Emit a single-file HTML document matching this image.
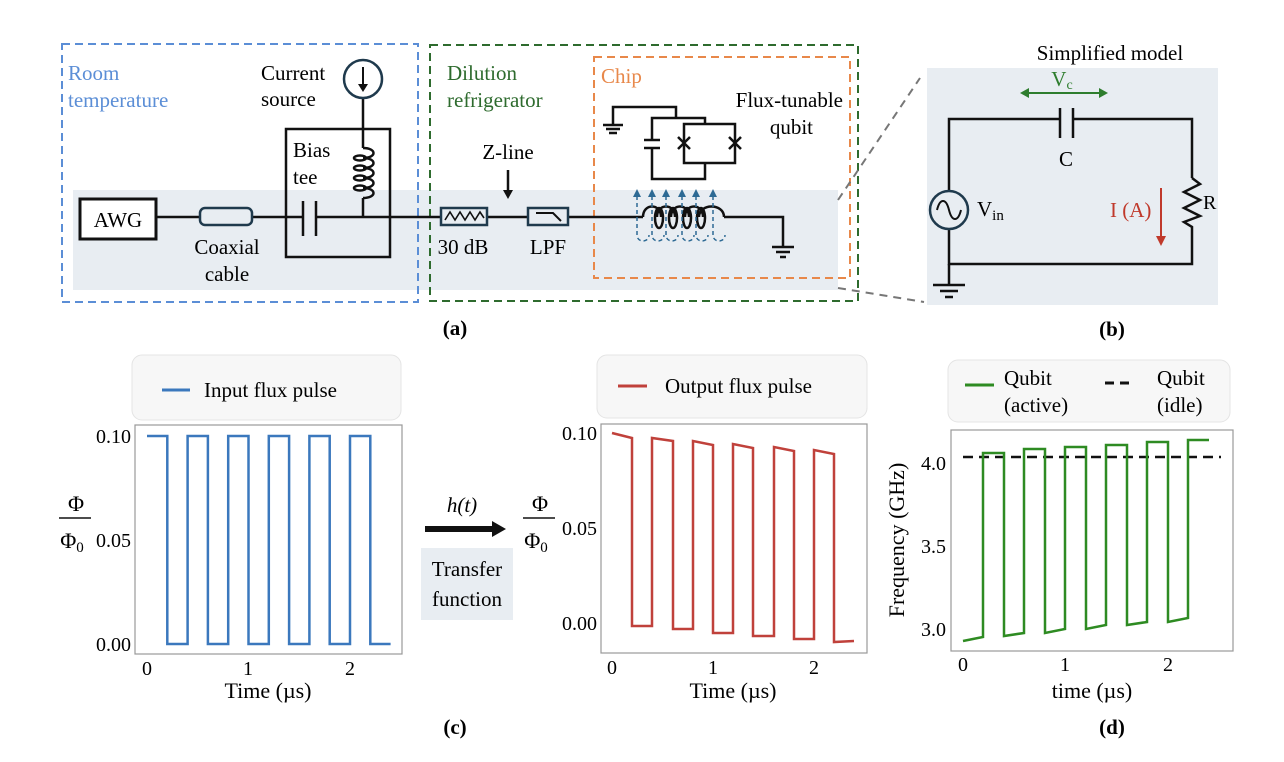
<!DOCTYPE html>
<html><head><meta charset="utf-8"><style>html,body{margin:0;padding:0;background:#fff}svg{display:block}</style></head>
<body>
<svg width="1284" height="762" viewBox="0 0 1284 762" xmlns="http://www.w3.org/2000/svg" font-family="Liberation Serif, serif" font-size="21">
<rect x="73" y="190" width="765" height="100" fill="#e8edf2"/>
<rect x="62" y="44" width="356" height="258" fill="none" stroke="#5b8ed6" stroke-width="2" stroke-dasharray="8,5"/>
<rect x="430" y="45" width="428" height="256" fill="none" stroke="#2e6b2e" stroke-width="2" stroke-dasharray="8,5"/>
<rect x="594" y="57" width="256" height="221" fill="none" stroke="#e8884a" stroke-width="2" stroke-dasharray="8,5"/>
<text x="68" y="80" fill="#5b8ed6">Room</text><text x="68" y="107" fill="#5b8ed6">temperature</text>
<text x="447" y="80" fill="#2e6b2e">Dilution</text><text x="447" y="107" fill="#2e6b2e">refrigerator</text>
<text x="601" y="83" fill="#e8884a">Chip</text>
<g stroke="#111" stroke-width="2.5" fill="none">
<line x1="156" y1="217" x2="200" y2="217"/><line x1="252" y1="217" x2="303" y2="217"/><line x1="316" y1="217" x2="441" y2="217"/>
<line x1="487" y1="217" x2="528" y2="217"/><line x1="568" y1="217" x2="643" y2="217"/>
<polyline points="724,217 783,217 783,247"/>
<line x1="303" y1="201" x2="303" y2="236"/><line x1="316" y1="201" x2="316" y2="236"/>
<line x1="363" y1="98" x2="363" y2="148"/><line x1="363" y1="198" x2="363" y2="217"/>
<path d="M363,148 c14,0 14,10 0,10 c14,0 14,10 0,10 c14,0 14,10 0,10 c14,0 14,10 0,10 c14,0 14,10 0,10"/>
<ellipse cx="360" cy="158" rx="6" ry="2.5"/><ellipse cx="360" cy="168" rx="6" ry="2.5"/><ellipse cx="360" cy="178" rx="6" ry="2.5"/><ellipse cx="360" cy="188" rx="6" ry="2.5"/>
<line x1="772" y1="247" x2="794" y2="247"/><line x1="776" y1="252" x2="790" y2="252"/><line x1="780" y1="257" x2="786" y2="257"/>
<path d="M643,217 c0,-14 18,-14 18,0 M657,217 c0,-14 18,-14 18,0 M671,217 c0,-14 18,-14 18,0 M685,217 c0,-14 18,-14 18,0 M699,217 c0,-14 25,-14 25,0"/>
<ellipse cx="659" cy="218" rx="4" ry="10"/><ellipse cx="673" cy="218" rx="4" ry="10"/><ellipse cx="687" cy="218" rx="4" ry="10"/><ellipse cx="701" cy="218" rx="4" ry="10"/>
<polyline points="613,125 613,107 676,107 676,118"/>
<line x1="603" y1="125" x2="623" y2="125"/><line x1="606" y1="129" x2="620" y2="129"/><line x1="609" y1="133" x2="617" y2="133"/>
<polyline points="652,140 652,118 705,118 705,124"/><polyline points="652,148 652,179 705,179 705,163"/>
<line x1="644" y1="140" x2="660" y2="140"/><line x1="644" y1="148" x2="660" y2="148"/>
<rect x="684" y="124" width="51" height="39"/>
<path d="M678,137 l12,12 M678,149 l12,-12 M729,137 l12,12 M729,149 l12,-12"/>
<line x1="508" y1="170" x2="508" y2="192"/>
</g>
<polygon points="503,190 513,190 508,199" fill="#111"/>
<rect x="80" y="199" width="76" height="40" fill="#fff" stroke="#111" stroke-width="3"/>
<text x="118" y="227" text-anchor="middle">AWG</text>
<rect x="200" y="208" width="52" height="17" rx="5" fill="#e8edf2" stroke="#1f3a4d" stroke-width="2.5"/>
<rect x="286" y="129" width="104" height="128" fill="none" stroke="#111" stroke-width="2.5"/>
<circle cx="363" cy="79" r="19" fill="#fff" stroke="#1f3a4d" stroke-width="2.5"/>
<line x1="363" y1="67" x2="363" y2="88" stroke="#111" stroke-width="2"/><polygon points="358,84 368,84 363,92" fill="#111"/>
<rect x="441" y="208" width="46" height="17" fill="none" stroke="#1f3a4d" stroke-width="2.5"/>
<polyline points="445,220 450,212 455,220 460,212 465,220 470,212 475,220 480,212 484,218" fill="none" stroke="#111" stroke-width="1.6"/>
<rect x="528" y="208" width="40" height="17" fill="none" stroke="#1f3a4d" stroke-width="2.5"/>
<polyline points="536,213 553,213 561,221" fill="none" stroke="#111" stroke-width="2"/>
<g stroke="#2d6a94" stroke-width="1.5" fill="none" stroke-dasharray="4,3">
<path d="M637,196 V235 c0,8 12,8 12,0"/><path d="M652,196 V235 c0,8 12,8 12,0"/><path d="M666,196 V235 c0,8 12,8 12,0"/><path d="M682,196 V235 c0,8 12,8 12,0"/><path d="M696,196 V235 c0,8 12,8 12,0"/><path d="M713,196 V235 c0,8 12,8 12,0"/>
</g>
<g fill="#2d6a94"><polygon points="633,197 641,197 637,189"/><polygon points="648,197 656,197 652,189"/><polygon points="662,197 670,197 666,189"/><polygon points="678,197 686,197 682,189"/><polygon points="692,197 700,197 696,189"/><polygon points="709,197 717,197 713,189"/></g>
<text x="261" y="80">Current</text><text x="261" y="106">source</text>
<text x="293" y="157">Bias</text><text x="293" y="184">tee</text>
<text x="227" y="254" text-anchor="middle">Coaxial</text><text x="227" y="281" text-anchor="middle">cable</text>
<text x="508" y="159" text-anchor="middle">Z-line</text>
<text x="463" y="254" text-anchor="middle">30 dB</text><text x="548" y="254" text-anchor="middle">LPF</text>
<text x="843" y="107" text-anchor="end">Flux-tunable</text><text x="813" y="134" text-anchor="end">qubit</text>
<line x1="838" y1="200" x2="920" y2="78" stroke="#777" stroke-width="2" stroke-dasharray="8,6"/>
<line x1="838" y1="288" x2="924" y2="302" stroke="#777" stroke-width="2" stroke-dasharray="8,6"/>
<rect x="927" y="68" width="291" height="237" fill="#e8edf2"/>
<text x="1110" y="60" text-anchor="middle">Simplified model</text>
<g stroke="#111" stroke-width="2.5" fill="none">
<polyline points="949,191 949,119 1060,119"/><polyline points="1073,119 1192,119 1192,178"/>
<line x1="1060" y1="108" x2="1060" y2="138"/><line x1="1073" y1="108" x2="1073" y2="138"/>
<polyline points="1192,178 1200,184 1184,192 1200,200 1184,208 1200,216 1184,222 1192,227 1192,264 949,264 949,229"/>
<line x1="949" y1="264" x2="949" y2="284"/>
<line x1="933" y1="285" x2="965" y2="285"/><line x1="940" y1="291" x2="958" y2="291"/><line x1="945" y1="297" x2="953" y2="297"/>
</g>
<circle cx="949" cy="210" r="19" fill="none" stroke="#1f3a4d" stroke-width="2.5"/>
<path d="M937,210 c3,-12 9,-12 12,0 c3,12 9,12 12,0" fill="none" stroke="#111" stroke-width="2"/>
<text x="977" y="216">V<tspan font-size="15" dy="4">in</tspan></text>
<text x="1066" y="166" text-anchor="middle">C</text>
<text x="1203" y="209" font-size="20">R</text>
<line x1="1026" y1="93" x2="1102" y2="93" stroke="#2e7d2e" stroke-width="2"/>
<polygon points="1020,93 1029,88 1029,98" fill="#2e7d2e"/><polygon points="1108,93 1099,88 1099,98" fill="#2e7d2e"/>
<text x="1062" y="86" fill="#2e7d2e" text-anchor="middle">V<tspan font-size="14" dy="3">c</tspan></text>
<text x="1110" y="217" fill="#c0392b">I (A)</text>
<line x1="1161" y1="188" x2="1161" y2="238" stroke="#c0392b" stroke-width="2"/><polygon points="1156,236 1166,236 1161,246" fill="#c0392b"/>
<text x="455" y="335" text-anchor="middle" font-weight="bold" font-size="21">(a)</text>
<text x="1112" y="336" text-anchor="middle" font-weight="bold" font-size="21">(b)</text>
<text x="455" y="734" text-anchor="middle" font-weight="bold" font-size="21">(c)</text>
<text x="1112" y="734" text-anchor="middle" font-weight="bold" font-size="21">(d)</text>
<rect x="132" y="355" width="269" height="65" rx="10" fill="#f7f7f7" stroke="#e4e4e4"/>
<line x1="162" y1="390" x2="190" y2="390" stroke="#3b78bd" stroke-width="3"/>
<text x="204" y="397">Input flux pulse</text>
<rect x="135" y="425" width="267" height="229" fill="none" stroke="#999" stroke-width="1.2"/>
<path d="M147,436 H167.3 V644 H187.6 V436 H207.9 V644 H228.2 V436 H248.5 V644 H268.8 V436 H289.1 V644 H309.4 V436 H329.7 V644 H350 V436 H370.3 V644 H390.6" fill="none" stroke="#3b78bd" stroke-width="2.5"/>
<g font-size="20" text-anchor="end"><text x="131" y="443">0.10</text><text x="131" y="547">0.05</text><text x="131" y="651">0.00</text></g>
<g font-size="20" text-anchor="middle"><text x="147" y="675">0</text><text x="248" y="675">1</text><text x="350" y="675">2</text></g>
<text x="268" y="698" text-anchor="middle" font-size="22">Time (µs)</text>
<text x="76" y="511" text-anchor="middle" font-size="22">Φ</text><line x1="59" y1="518" x2="91" y2="518" stroke="#111" stroke-width="1.5"/><text x="72" y="548" text-anchor="middle" font-size="22">Φ<tspan font-size="15" dy="4">0</tspan></text>
<line x1="425" y1="529" x2="494" y2="529" stroke="#111" stroke-width="6"/><polygon points="492,521 506,529 492,537" fill="#111"/>
<text x="462" y="512" text-anchor="middle" font-style="italic">h(t)</text>
<rect x="421" y="548" width="92" height="72" fill="#e8edf2"/>
<text x="467" y="576" text-anchor="middle">Transfer</text><text x="467" y="606" text-anchor="middle">function</text>
<rect x="597" y="355" width="270" height="63" rx="10" fill="#f7f7f7" stroke="#e4e4e4"/>
<line x1="618" y1="386" x2="647" y2="386" stroke="#c0413b" stroke-width="3"/>
<text x="665" y="393">Output flux pulse</text>
<rect x="601" y="424" width="266" height="229" fill="none" stroke="#999" stroke-width="1.2"/>
<path d="M612,433 L632,438 L632,626 L652,626 L652,438 L673,441 L673,629 L693,629 L693,441 L713,445 L713,633 L733,633 L733,444 L753,448 L753,636 L774,636 L774,447 L794,451 L794,639 L814,639 L814,450 L834,454 L834,642 L854,641" fill="none" stroke="#c0413b" stroke-width="2.5"/>
<g font-size="20" text-anchor="end"><text x="597" y="440">0.10</text><text x="597" y="535">0.05</text><text x="597" y="630">0.00</text></g>
<g font-size="20" text-anchor="middle"><text x="612" y="674">0</text><text x="713" y="674">1</text><text x="814" y="674">2</text></g>
<text x="733" y="698" text-anchor="middle" font-size="22">Time (µs)</text>
<text x="540" y="511" text-anchor="middle" font-size="22">Φ</text><line x1="523" y1="518" x2="555" y2="518" stroke="#111" stroke-width="1.5"/><text x="536" y="548" text-anchor="middle" font-size="22">Φ<tspan font-size="15" dy="4">0</tspan></text>
<rect x="948" y="360" width="282" height="62" rx="10" fill="#f7f7f7" stroke="#e4e4e4"/>
<line x1="965" y1="385" x2="994" y2="385" stroke="#2e8b22" stroke-width="3"/>
<text x="1004" y="385">Qubit</text><text x="1004" y="412">(active)</text>
<line x1="1105" y1="383" x2="1135" y2="383" stroke="#111" stroke-width="3" stroke-dasharray="9,6"/>
<text x="1157" y="385">Qubit</text><text x="1157" y="412">(idle)</text>
<rect x="951" y="430" width="282" height="221" fill="none" stroke="#999" stroke-width="1.2"/>
<line x1="963" y1="457" x2="1221" y2="457" stroke="#111" stroke-width="2.5" stroke-dasharray="10,6"/>
<path d="M963,641 L983,637 V453 H1004 V636 L1024,633 V449 H1045 V633 L1065,629 V447 H1086 V629 L1106,625 V445 H1127 V625 L1147,622 V442 H1168 V622 L1188,618 V440 H1209" fill="none" stroke="#2e8b22" stroke-width="2.5"/>
<g font-size="20" text-anchor="end"><text x="946" y="470">4.0</text><text x="946" y="553">3.5</text><text x="946" y="636">3.0</text></g>
<g font-size="20" text-anchor="middle"><text x="963" y="671">0</text><text x="1065" y="671">1</text><text x="1168" y="671">2</text></g>
<text x="1092" y="698" text-anchor="middle" font-size="22">time (µs)</text>
<text transform="translate(904,540) rotate(-90)" text-anchor="middle" font-size="22">Frequency (GHz)</text>
</svg>
</body></html>
